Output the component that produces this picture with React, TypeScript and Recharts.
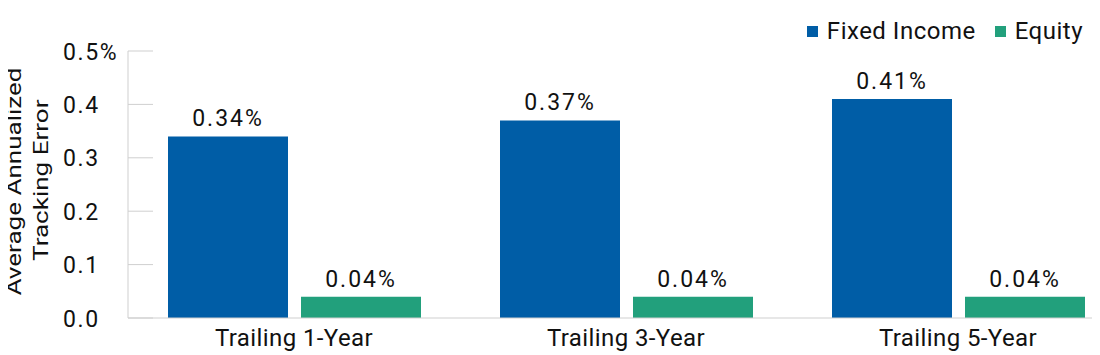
import React from 'react';
import { BarChart, Bar, XAxis, YAxis, LabelList, Label } from 'recharts';

const categories = ['Trailing 1-Year', 'Trailing 3-Year', 'Trailing 5-Year'];
const fixedIncome = [0.34, 0.37, 0.41];
const equity = [0.04, 0.04, 0.04];
const yTicks = [0, 0.1, 0.2, 0.3, 0.4, 0.5];
const seriesNames = ['Fixed Income', 'Equity'];
const seriesColors = ['#005DA6', '#22A07C'];
const yLabelLines = ['Average Annualized', 'Tracking Error'];

const data = categories.map((c, i) => ({ category: c, fixedIncome: fixedIncome[i], equity: equity[i] }));

const FONT = 'Roboto, "Noto Sans", sans-serif';
const TEXT = '#111111';
const AXIS = '#cfcfcf';

const YTick = (props: any) => {
  const { x, y, payload } = props;
  const v = payload.value as number;
  const label = v === yTicks[yTicks.length - 1] ? `${v.toFixed(1)}%` : v.toFixed(1);
  return (
    <g>
      <line x1={x} x2={x + 25} y1={y} y2={y} stroke={AXIS} strokeWidth={1} />
      <text x={x - 65} y={y} dy="0.37em" textAnchor="start" fontFamily={FONT} fontSize={23} letterSpacing={1.6} fill={TEXT}>
        {label}
      </text>
    </g>
  );
};

const YLabel = (props: any) => {
  const vb = props.viewBox || { x: 0, y: 0, width: 0, height: 0 };
  const cx = 20.5;
  const cy = vb.y + vb.height / 2 - 3;
  return (
    <g transform={`translate(${cx}, ${cy}) rotate(-90) scale(1.27, 1)`}>
      <text x={0} y={0} textAnchor="middle" fontFamily={FONT} fontSize={20.5} fill={TEXT}>
        <tspan x={0} dy={0}>{yLabelLines[0]}</tspan>
        <tspan x={1} dy={27.5}>{yLabelLines[1]}</tspan>
      </text>
    </g>
  );
};

const fmtPct = (v: any) => `${Number(v).toFixed(2)}%`;

const labelStyle = { fontFamily: FONT, fontSize: 23, fill: TEXT, letterSpacing: 2 };

export default function App() {
  return (
    <div style={{ position: 'relative', width: 1096, height: 355, overflow: 'hidden', background: '#fff', marginLeft: -8, marginTop: -8 }}>
      <BarChart
        width={1138}
        height={355}
        data={data}
        margin={{ top: 51, right: 14, bottom: 7, left: 8 }}
        barGap={13}
        barSize={120}
      >
        <XAxis
          dataKey="category"
          axisLine={{ stroke: AXIS, strokeWidth: 1 }}
          tickLine={false}
          tickSize={0}
          tickMargin={11}
          height={30}
          interval={0}
          tick={{ fontFamily: FONT, fontSize: 24, fill: TEXT, letterSpacing: 0.4 }}
        />
        <YAxis
          width={120}
          domain={[0, 0.5]}
          ticks={yTicks}
          axisLine={{ stroke: AXIS, strokeWidth: 1 }}
          tickLine={false}
          tickSize={0}
          tickMargin={0}
          tick={<YTick />}
          interval={0}
        >
          <Label content={<YLabel />} />
        </YAxis>
        <Bar dataKey="fixedIncome" name={seriesNames[0]} fill={seriesColors[0]} isAnimationActive={false}>
          <LabelList dataKey="fixedIncome" position="top" offset={10} formatter={fmtPct} style={labelStyle} />
        </Bar>
        <Bar dataKey="equity" name={seriesNames[1]} fill={seriesColors[1]} isAnimationActive={false}>
          <LabelList dataKey="equity" position="top" offset={10} formatter={fmtPct} style={labelStyle} />
        </Bar>
      </BarChart>
      <div
        style={{
          position: 'absolute',
          top: 17,
          right: 13,
          display: 'flex',
          alignItems: 'center',
          fontFamily: FONT,
          fontSize: 24,
          letterSpacing: 0.5,
          color: TEXT,
          lineHeight: '28px',
        }}
      >
        {seriesNames.map((n, i) => (
          <div key={n} style={{ display: 'flex', alignItems: 'center', marginLeft: i === 0 ? 0 : 19 }}>
            <span style={{ display: 'inline-block', width: 11, height: 11, background: seriesColors[i], marginRight: 9 }} />
            <span>{n}</span>
          </div>
        ))}
      </div>
    </div>
  );
}
